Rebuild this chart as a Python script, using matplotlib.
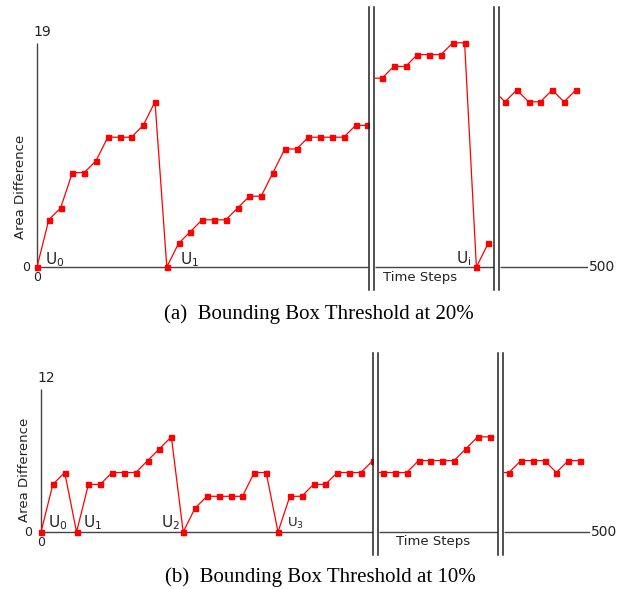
import numpy as np
import matplotlib
matplotlib.use("Agg")
import matplotlib.pyplot as plt

# ---------------- DATA ---------------- #
# panel (a): threshold 20%, three visible pieces of the time axis
# (first value of piece 2 and 3 is the hidden point just before the break)
a_seg1 = [0, 4, 5, 8, 8, 9, 11, 11, 11, 12, 14, 0, 2, 3, 4, 4, 4, 5, 6, 6,
          8, 10, 10, 11, 11, 11, 11, 12, 12]
a_seg2 = [16, 16, 17, 17, 18, 18, 18, 19, 19, 0, 2]
a_seg3 = [15, 14, 15, 14, 14, 15, 14, 15]
a_ymax = 19
a_updates = [(1, 0, r'U$_0$'), (1, 11, r'U$_1$'), (2, 8, r'U$_\mathrm{i}$')]

# panel (b): threshold 10%
b_seg1 = [0, 4, 5, 0, 4, 4, 5, 5, 5, 6, 7, 8, 0, 2, 3, 3, 3, 3, 5, 5,
          0, 3, 3, 4, 4, 5, 5, 5, 6]
b_seg2 = [5, 5, 5, 5, 6, 6, 6, 6, 7, 8, 8]
b_seg3 = [5, 5, 6, 6, 6, 5, 6, 6]
b_ymax = 12
b_updates = [(1, 0, r'U$_0$'), (1, 3, r'U$_1$'), (1, 12, r'U$_2$'), (1, 20, r'U$_3$')]

x_label = 'Time Steps'
y_label = 'Area Difference'
x_end_label = '500'
captions = ['(a)  Bounding Box Threshold at 20%', '(b)  Bounding Box Threshold at 10%']

# ---------------- STYLE ---------------- #
W, H = 632, 589
RED = '#ff0000'
AXC = '#444444'
TXT = '#222222'

fig = plt.figure(figsize=(W / 100, H / 100), dpi=100)


def seg_axes(left, right, top, bottom, x0, dx, y0, dy):
    # axes placed in pixel box, data index 0 at pixel x0, value 0 at pixel y0
    ax = fig.add_axes([left / W, 1 - bottom / H, (right - left) / W, (bottom - top) / H])
    ax.set_xlim((left - x0) / dx, (right - x0) / dx)
    ax.set_ylim((y0 - bottom) / dy, (y0 - top) / dy)
    ax.axis('off')
    return ax


def draw_panel(segs, ymax, updates, layout):
    axes = []
    for k, (vals, box) in enumerate(zip(segs, layout['boxes'])):
        left, right, x0 = box
        ax = seg_axes(left, right, layout['top'], layout['bottom'], x0,
                      layout['dx'], layout['y0'], layout['dy'])
        start = 0 if k == 0 else -1
        xs = np.arange(start, start + len(vals))
        ax.plot(xs, vals, color=RED, lw=0.9, marker='s', ms=3.6,
                mfc=RED, mec=RED, zorder=3)
        xmax = ax.get_xlim()[1]
        xmin = 0 if k == 0 else ax.get_xlim()[0]
        ax.hlines(0, xmin, xmax, color=AXC, lw=1.0, zorder=2)
        axes.append(ax)

    ax1 = axes[0]
    ax1.vlines(0, 0, ymax, color=AXC, lw=1.0, zorder=2)
    ax1.annotate(str(ymax), (0, ymax), xytext=(5, 11), textcoords='offset pixels',
                 ha='center', va='center', fontsize=10, color=TXT, annotation_clip=False)
    ax1.annotate('0', (0, 0), xytext=(layout['zero_dx'], 0), textcoords='offset pixels',
                 ha='center', va='center', fontsize=9, color=TXT, annotation_clip=False)
    ax1.annotate('0', (0, 0), xytext=(0, -10), textcoords='offset pixels',
                 ha='center', va='center', fontsize=9, color=TXT, annotation_clip=False)

    for seg, idx, lab in updates:
        ax = axes[seg - 1]
        vals = segs[seg - 1]
        v = vals[idx] if seg == 1 else vals[idx + 1]
        off, ha, fs = layout['u_off'].get(lab, ((8, 3), 'left', 11))
        ax.annotate(lab, (idx, v), xytext=off, textcoords='offset pixels',
                    ha=ha, va='baseline', fontsize=fs, color=TXT, annotation_clip=False)

    ax3 = axes[2]
    ax3.annotate(x_end_label, (ax3.get_xlim()[1], 0), xytext=(1, 0),
                 textcoords='offset pixels', ha='left', va='center',
                 fontsize=10, color=TXT, annotation_clip=False)
    return axes


# ---------------- PANEL (a) ---------------- #
layout_a = dict(top=20, bottom=282, y0=267, dy=11.8, dx=11.8, zero_dx=-11,
                boxes=[(30, 368.5, 37), (374.5, 493.5, 382), (499.5, 588, 505)],
                u_off={r'U$_0$': ((8, 3), 'left', 11),
                       r'U$_1$': ((13, 3), 'left', 11),
                       r'U$_\mathrm{i}$': ((-5, 4), 'right', 11)})
draw_panel([a_seg1, a_seg2, a_seg3], a_ymax, a_updates, layout_a)

# ---------------- PANEL (b) ---------------- #
layout_b = dict(top=378, bottom=547, y0=532, dy=11.9, dx=11.85, zero_dx=-13,
                boxes=[(34, 373, 41), (378.5, 497.5, 383), (503.5, 590, 509)],
                u_off={r'U$_0$': ((7, 5), 'left', 11),
                       r'U$_1$': ((6, 5), 'left', 11),
                       r'U$_2$': ((-3, 5), 'right', 11),
                       r'U$_3$': ((9, 5), 'left', 9.5)})
draw_panel([b_seg1, b_seg2, b_seg3], b_ymax, b_updates, layout_b)

# ---------------- OVERLAY: breaks, labels, captions ---------------- #
ov = fig.add_axes([0, 0, 1, 1])
ov.set_xlim(0, W)
ov.set_ylim(H, 0)
ov.axis('off')
ov.patch.set_alpha(0)

for xb in [369, 374, 494, 499]:
    ov.plot([xb, xb], [7, 290], color='#222222', lw=1.1)
for xb in [373, 378, 498, 503]:
    ov.plot([xb, xb], [353, 555], color='#222222', lw=1.1)

ov.text(420, 277, x_label, ha='center', va='center', fontsize=9.5, color=TXT)
ov.text(433, 542, x_label, ha='center', va='center', fontsize=9.5, color=TXT)
ov.text(21, 187, y_label, ha='center', va='center', rotation=90, fontsize=9.5, color=TXT)
# kept just above the "0" tick so the two texts do not collide
ov.text(25, 470, y_label, ha='center', va='center', rotation=90, fontsize=9.5, color=TXT)

ov.text(319, 314, captions[0], ha='center', va='center', fontsize=15,
        family='Liberation Serif', color='black')
ov.text(320, 577, captions[1], ha='center', va='center', fontsize=15,
        family='Liberation Serif', color='black')

fig.savefig('out.png', dpi=100)
